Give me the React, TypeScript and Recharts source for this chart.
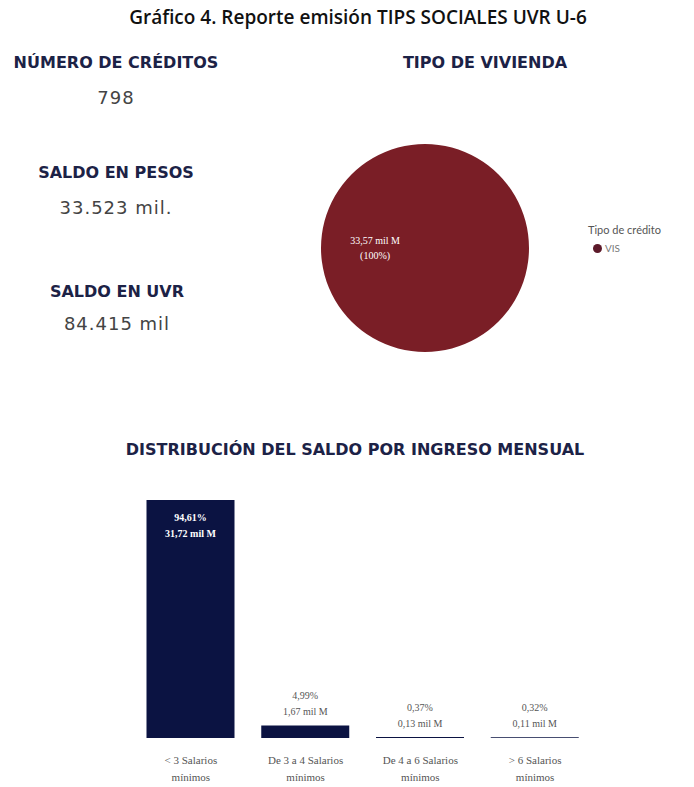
import React from 'react';
import { PieChart, Pie, Cell, Legend, BarChart, Bar, XAxis, YAxis, LabelList } from 'recharts';

const titleText = 'Gráfico 4. Reporte emisión TIPS SOCIALES UVR U-6';
const kpiLabels = ['NÚMERO DE CRÉDITOS', 'SALDO EN PESOS', 'SALDO EN UVR'];
const kpiValues = ['798', '33.523 mil.', '84.415 mil'];

const housingTypes = ['VIS'];
const housingValues = [33.57];
const housingPercents = [100];

const incomeCategories = ['< 3 Salarios mínimos', 'De 3 a 4 Salarios mínimos', 'De 4 a 6 Salarios mínimos', '> 6 Salarios mínimos'];
const incomeValues = [31.72, 1.67, 0.13, 0.11];
const incomePercents = [94.61, 4.99, 0.37, 0.32];

const NAVY = '#0b1342';
const WINE = '#7a1e26';
const HEAD = '#1c2246';

const fmt = (v: number) => v.toFixed(2).replace('.', ',');

const pieData = housingTypes.map((t, i) => ({ name: t, value: housingValues[i], pct: housingPercents[i] }));
const barData = incomeCategories.map((c, i) => ({ name: c, value: incomeValues[i], pct: incomePercents[i] }));

const RAD = Math.PI / 180;

const PieLabel = (props: any) => {
  const { cx, cy, midAngle, outerRadius, payload } = props;
  const r = outerRadius * 0.48;
  const x = cx + r * Math.cos(-midAngle * RAD);
  const y = cy + r * Math.sin(-midAngle * RAD);
  const d = payload && payload.payload ? payload.payload : payload;
  return (
    <text x={x} y={y} fill="#ffffff" textAnchor="middle" fontFamily="Liberation Serif" fontSize={10}>
      <tspan x={x} dy={-4}>{fmt(d.value)} mil M</tspan>
      <tspan x={x} dy={15}>({d.pct}%)</tspan>
    </text>
  );
};

const PieLegend = (props: any) => {
  const { payload } = props;
  return (
    <div style={{ fontFamily: 'Lato, sans-serif', fontSize: 11, color: '#555', whiteSpace: 'nowrap' }}>
      <div style={{ marginBottom: 6 }}>Tipo de crédito</div>
      {(payload || []).map((p: any, i: number) => (
        <div key={i} style={{ display: 'flex', alignItems: 'center', fontSize: 10, color: '#777' }}>
          <span style={{ display: 'inline-block', width: 9, height: 9, borderRadius: 5, background: '#5c1a2a', marginRight: 3, marginLeft: 5 }} />
          {p.value}
        </div>
      ))}
    </div>
  );
};

const BarLabel = (props: any) => {
  const { x, y, width, index } = props;
  const d = barData[index];
  const cx = x + width / 2;
  const inside = index === 0;
  const l1 = `${fmt(d.pct)}%`;
  const l2 = `${fmt(d.value)} mil M`;
  if (inside) {
    return (
      <text x={cx} y={y} fill="#ffffff" textAnchor="middle" fontFamily="Liberation Serif" fontSize={10} fontWeight="bold">
        <tspan x={cx} dy={21}>{l1}</tspan>
        <tspan x={cx} dy={16}>{l2}</tspan>
      </text>
    );
  }
  return (
    <text x={cx} y={y} fill="#555" textAnchor="middle" fontFamily="Liberation Serif" fontSize={10}>
      <tspan x={cx} dy={-26}>{l1}</tspan>
      <tspan x={cx} dy={16}>{l2}</tspan>
    </text>
  );
};

const CatTick = (props: any) => {
  const { x, y, payload } = props;
  const words = String(payload.value).split(' ');
  const last = words.pop();
  return (
    <text x={x} y={y} fill="#555" textAnchor="middle" fontFamily="Liberation Serif" fontSize={11}>
      <tspan x={x} dy={26}>{words.join(' ')}</tspan>
      <tspan x={x} dy={17}>{last}</tspan>
    </text>
  );
};

const abs = (cx: number, cy: number, w: number, lh: number): React.CSSProperties => ({
  position: 'absolute', left: cx - w / 2, top: cy - lh / 2, width: w, height: lh, lineHeight: `${lh}px`, textAlign: 'center', whiteSpace: 'nowrap',
});

const headStyle: React.CSSProperties = { fontFamily: '"DejaVu Sans", sans-serif', fontWeight: 'bold', fontSize: 16, color: HEAD };
const valStyle: React.CSSProperties = { fontFamily: '"DejaVu Sans", sans-serif', fontSize: 18, letterSpacing: 1, color: '#444' };

export default function App() {
  const kpiPos = [
    { cx: 116, ly: 63, vy: 98 },
    { cx: 116, ly: 173, vy: 208 },
    { cx: 117, ly: 292, vy: 324 },
  ];
  return (
    <div style={{ position: 'absolute', left: 0, top: 0, width: 694, height: 787, background: '#fff', overflow: 'hidden' }}>
      <div style={{ ...abs(358, 17, 694, 26), fontFamily: '"Open Sans", sans-serif', fontSize: 19, fontWeight: 600, color: '#111' }}>{titleText}</div>
      {kpiLabels.map((l, i) => (
        <React.Fragment key={l}>
          <div style={{ ...abs(kpiPos[i].cx, kpiPos[i].ly, 240, 20), ...headStyle }}>{l}</div>
          <div style={{ ...abs(kpiPos[i].cx, kpiPos[i].vy, 240, 24), ...valStyle }}>{kpiValues[i]}</div>
        </React.Fragment>
      ))}
      <div style={{ ...abs(485, 63, 240, 20), ...headStyle }}>TIPO DE VIVIENDA</div>
      <div style={{ position: 'absolute', left: 300, top: 120 }}>
        <PieChart width={394} height={250}>
          <Pie data={pieData} dataKey="value" nameKey="name" cx={120} cy={123} outerRadius={104} startAngle={0} endAngle={360}
            stroke="none" label={PieLabel} labelLine={false} isAnimationActive={false}>
            {pieData.map((d, i) => <Cell key={i} fill={WINE} />)}
          </Pie>
          <Legend content={PieLegend} wrapperStyle={{ position: 'absolute', left: 288, top: 103, width: 110 }} />
        </PieChart>
      </div>
      <div style={{ ...abs(355, 450, 600, 20), ...headStyle }}>DISTRIBUCIÓN DEL SALDO POR INGRESO MENSUAL</div>
      <div style={{ position: 'absolute', left: 0, top: 470 }}>
        <BarChart width={694} height={317} data={barData} margin={{ top: 30, right: 101.5, bottom: 0, left: 133.5 }} barSize={88}>
          <XAxis dataKey="name" axisLine={false} tickLine={false} tickSize={0} tickMargin={0} height={49} interval={0} tick={CatTick} />
          <YAxis hide domain={[0, 'dataMax']} />
          <Bar dataKey="value" fill={NAVY} isAnimationActive={false}>
            <LabelList dataKey="value" content={BarLabel} />
          </Bar>
        </BarChart>
      </div>
    </div>
  );
}
